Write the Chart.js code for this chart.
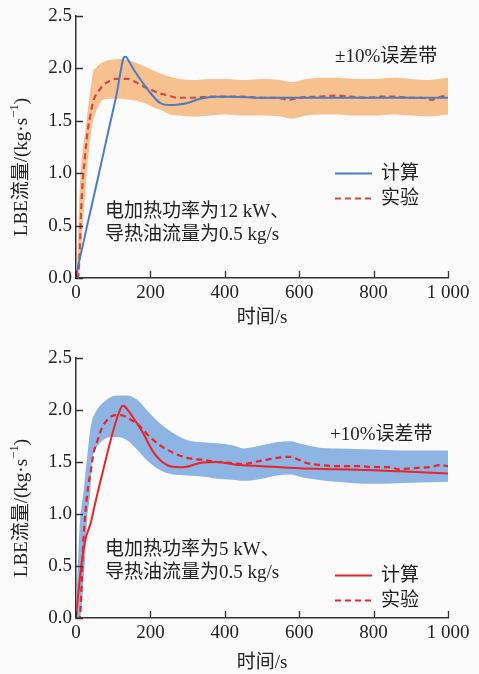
<!DOCTYPE html>
<html>
<head>
<meta charset="utf-8">
<title>LBE flow</title>
<script src="https://cdn.jsdelivr.net/npm/chart.js@4.4.1/dist/chart.umd.min.js"></script>
<style>
  html, body { margin: 0; padding: 0; background: #fbfbfb; }
  .wrap { position: relative; width: 479px; height: 337px; }
  canvas { display: block; }
</style>
</head>
<body>
<div class="wrap"><canvas id="chartTop" width="479" height="337"></canvas></div>
<div class="wrap"><canvas id="chartBottom" width="479" height="337"></canvas></div>

<script>
// ---- data: 12 kW case ----
const calcTime1 = [0, 10, 30, 60, 90, 110, 120, 128, 134, 142, 155, 172, 199, 226, 250, 275, 300, 333, 378, 420, 500, 600, 700, 800, 900, 1000];
const calcFlow1 = [0.03, 0.18, 0.5, 0.97, 1.45, 1.77, 1.97, 2.1, 2.11, 2.07, 1.99, 1.9, 1.77, 1.67, 1.65, 1.655, 1.67, 1.71, 1.73, 1.73, 1.72, 1.72, 1.72, 1.72, 1.72, 1.72];
const expTime1 = [0, 6, 10, 15, 24, 32, 38, 46, 51, 60, 73, 90, 105, 137, 160, 180, 200, 226, 250, 271, 315, 360, 400, 450, 500, 540, 570, 600, 650, 700, 740, 780, 820, 860, 900, 930, 955, 980, 1000];
const expFlow1 = [0, 0.02, 0.25, 0.74, 1.15, 1.42, 1.54, 1.68, 1.73, 1.78, 1.84, 1.88, 1.9, 1.9, 1.87, 1.83, 1.8, 1.76, 1.74, 1.72, 1.72, 1.73, 1.73, 1.73, 1.72, 1.72, 1.70, 1.72, 1.73, 1.74, 1.73, 1.72, 1.73, 1.73, 1.72, 1.72, 1.70, 1.73, 1.74];
const bandTime1 = [0, 5, 10, 15, 20, 25, 30, 35, 40, 46, 52, 60, 73, 90, 118, 140, 164, 190, 207, 230, 253, 280, 315, 360, 400, 450, 500, 550, 580, 620, 660, 700, 750, 800, 850, 900, 950, 1000];
const bandUpper1 = [0.05, 0.3, 0.85, 1.12, 1.28, 1.4, 1.55, 1.7, 1.83, 1.97, 2.0, 2.03, 2.06, 2.08, 2.09, 2.08, 2.05, 2.01, 1.98, 1.95, 1.92, 1.9, 1.89, 1.9, 1.9, 1.89, 1.9, 1.89, 1.87, 1.9, 1.91, 1.91, 1.9, 1.9, 1.91, 1.9, 1.89, 1.91];
const bandLower1 = [0, 0, 0.1, 0.35, 0.6, 0.83, 1.05, 1.22, 1.38, 1.5, 1.57, 1.64, 1.7, 1.71, 1.71, 1.7, 1.69, 1.66, 1.63, 1.6, 1.56, 1.55, 1.54, 1.55, 1.56, 1.55, 1.55, 1.54, 1.52, 1.55, 1.56, 1.56, 1.55, 1.55, 1.56, 1.55, 1.54, 1.56];

// ---- data: 5 kW case ----
const calcTime2 = [0, 8, 16, 25, 40, 50, 75, 100, 115, 125, 132, 153, 180, 207, 226, 253, 288, 333, 378, 420, 442, 500, 600, 700, 800, 871, 1000];
const calcFlow2 = [0.02, 0.3, 0.55, 0.75, 0.92, 1.08, 1.45, 1.8, 1.97, 2.04, 2.03, 1.93, 1.78, 1.6, 1.52, 1.46, 1.45, 1.49, 1.5, 1.48, 1.47, 1.46, 1.44, 1.43, 1.42, 1.41, 1.39];
const expTime2 = [0, 10, 13, 16, 19, 25, 33, 40, 47, 60, 70, 83, 105, 120, 137, 150, 167, 183, 199, 226, 261, 298, 342, 378, 420, 450, 480, 510, 540, 575, 600, 620, 660, 710, 760, 800, 840, 870, 900, 950, 980, 1000];
const expFlow2 = [0, 0, 0.15, 0.4, 0.68, 1.0, 1.27, 1.42, 1.58, 1.73, 1.83, 1.9, 1.95, 1.95, 1.93, 1.9, 1.86, 1.8, 1.74, 1.66, 1.59, 1.54, 1.52, 1.5, 1.49, 1.48, 1.5, 1.52, 1.54, 1.55, 1.52, 1.49, 1.47, 1.46, 1.46, 1.45, 1.45, 1.43, 1.44, 1.45, 1.47, 1.46];
const bandTime2 = [0, 5, 10, 15, 20, 25, 30, 38, 43, 50, 64, 73, 91, 110, 137, 164, 190, 226, 261, 300, 340, 378, 420, 450, 500, 540, 575, 610, 650, 700, 800, 900, 1000];
const bandUpper2 = [0.1, 0.5, 0.9, 1.08, 1.2, 1.38, 1.55, 1.8, 1.9, 1.96, 2.04, 2.07, 2.12, 2.14, 2.14, 2.1, 2.0, 1.87, 1.78, 1.71, 1.69, 1.68, 1.66, 1.63, 1.66, 1.69, 1.70, 1.67, 1.64, 1.63, 1.62, 1.61, 1.61];
const bandLower2 = [0, 0, 0, 0.1, 0.35, 0.6, 0.95, 1.2, 1.5, 1.6, 1.68, 1.71, 1.74, 1.74, 1.71, 1.62, 1.52, 1.42, 1.38, 1.37, 1.36, 1.34, 1.33, 1.32, 1.34, 1.37, 1.38, 1.35, 1.33, 1.31, 1.29, 1.30, 1.31];

const xTicks = [0, 200, 400, 600, 800, 1000];
const yTicks = [0, 0.5, 1.0, 1.5, 2.0, 2.5];

const FONT = '"Liberation Serif", "Noto Sans CJK SC", serif';
const AXIS = '#333';
Chart.defaults.font.family = FONT;
Chart.defaults.font.size = 19;
Chart.defaults.color = '#222';

function zip(xs, ys) {
  return xs.map((x, i) => ({ x: x, y: ys[i] }));
}

function fmtX(v) {
  return v === 1000 ? '1 000' : String(v);
}

// inward tick marks on both axes
const inwardTicks = {
  id: 'inwardTicks',
  afterDraw(chart) {
    const { ctx, chartArea: a, scales: { x, y } } = chart;
    ctx.save();
    ctx.strokeStyle = AXIS;
    ctx.lineWidth = 1.3;
    ctx.beginPath();
    x.ticks.forEach(t => {
      const px = Math.round(x.getPixelForValue(t.value)) + 0.5;
      ctx.moveTo(px, a.bottom);
      ctx.lineTo(px, a.bottom - 7);
    });
    y.ticks.forEach(t => {
      const py = Math.round(y.getPixelForValue(t.value)) + 0.5;
      ctx.moveTo(a.left, py);
      ctx.lineTo(a.left + 7, py);
    });
    ctx.stroke();
    ctx.restore();
  }
};

// y axis title with superscript, legend and notes
const notes = {
  id: 'notes',
  afterDraw(chart, args, opts) {
    const { ctx, chartArea: a } = chart;
    ctx.save();
    ctx.fillStyle = '#222';
    ctx.textBaseline = 'middle';

    // y title
    const big = '19px ' + FONT, small = '13px ' + FONT;
    const p1 = 'LBE流量/(kg·s', p2 = '−1', p3 = ')';
    ctx.font = big;
    const w1 = ctx.measureText(p1).width, w3 = ctx.measureText(p3).width;
    ctx.font = small;
    const w2 = ctx.measureText(p2).width;
    const total = w1 + w2 + w3;
    ctx.translate(22, (a.top + a.bottom) / 2 + 20);
    ctx.rotate(-Math.PI / 2);
    ctx.textAlign = 'left';
    ctx.font = big;
    ctx.fillText(p1, -total / 2, 0);
    ctx.font = small;
    ctx.fillText(p2, -total / 2 + w1, -7);
    ctx.font = big;
    ctx.fillText(p3, -total / 2 + w1 + w2, 0);
    ctx.setTransform(1, 0, 0, 1, 0, 0);

    // band label and notes
    ctx.font = big;
    ctx.fillText(opts.bandLabel, a.left + opts.bandPos[0], a.top + opts.bandPos[1]);
    opts.noteLines.forEach((s, i) => {
      ctx.fillText(s, a.left + opts.notePos[0], a.top + opts.notePos[1] + i * 23.5);
    });

    // legend from the two line datasets
    [0, 1].forEach(i => {
      const ds = chart.data.datasets[i];
      const ly = Math.round(a.top + opts.legendPos[1] + i * 24.5) + 0.5;
      const lx = a.left + opts.legendPos[0];
      ctx.save();
      ctx.strokeStyle = ds.borderColor;
      ctx.lineWidth = ds.borderWidth;
      ctx.setLineDash(ds.borderDash || []);
      ctx.beginPath();
      ctx.moveTo(lx, ly);
      ctx.lineTo(lx + 37, ly);
      ctx.stroke();
      ctx.restore();
      ctx.fillText(ds.label, lx + 46, ly + 1);
    });
    ctx.restore();
  }
};

function makeChart(id, cfg) {
  const lineBase = { pointRadius: 0, fill: false, cubicInterpolationMode: 'monotone' };
  return new Chart(document.getElementById(id), {
    type: 'line',
    data: {
      datasets: [
        Object.assign({ label: '计算', data: cfg.calc, borderColor: cfg.calcColor, borderWidth: 2 }, lineBase),
        Object.assign({ label: '实验', data: cfg.exp, borderColor: cfg.expColor, borderWidth: 2.2, borderDash: [6, 4] }, lineBase),
        { label: 'upper', data: cfg.upper, borderWidth: 0, pointRadius: 0, backgroundColor: cfg.bandColor,
          fill: '+1', cubicInterpolationMode: 'monotone' },
        { label: 'lower', data: cfg.lower, borderWidth: 0, pointRadius: 0, fill: false,
          cubicInterpolationMode: 'monotone' }
      ]
    },
    options: {
      responsive: false,
      animation: false,
      layout: { padding: { left: 0, right: 31, top: cfg.top, bottom: 0 } },
      plugins: {
        legend: { display: false },
        tooltip: { enabled: false },
        notes: cfg.notes
      },
      scales: {
        x: {
          type: 'linear', min: 0, max: 1000,
          afterBuildTicks: s => { s.ticks = xTicks.map(v => ({ value: v })); },
          afterFit: s => { s.height = cfg.xHeight; },
          grid: { display: false, drawTicks: false },
          border: { display: true, color: AXIS, width: 1.5 },
          ticks: { padding: 4, maxRotation: 0, autoSkip: false, callback: v => fmtX(v) },
          title: { display: true, text: '时间/s', padding: { top: 0, bottom: cfg.titlePad } }
        },
        y: {
          type: 'linear', min: 0, max: 2.5,
          afterBuildTicks: s => { s.ticks = yTicks.map(v => ({ value: v })); },
          afterFit: s => { s.width = 76; },
          grid: { display: false, drawTicks: false },
          border: { display: true, color: AXIS, width: 1.5 },
          ticks: { padding: 4, callback: v => v.toFixed(1) }
        }
      }
    },
    plugins: [inwardTicks, notes]
  });
}

makeChart('chartTop', {
  calc: zip(calcTime1, calcFlow1),
  exp: zip(expTime1, expFlow1),
  upper: zip(bandTime1, bandUpper1),
  lower: zip(bandTime1, bandLower1),
  calcColor: '#4a7cc4', expColor: '#cf4b45', bandColor: '#f7c18f',
  top: 16, xHeight: 59, titlePad: 8,
  notes: {
    bandLabel: '±10%误差带', bandPos: [259, 41],
    noteLines: ['电加热功率为12 kW、', '导热油流量为0.5 kg/s'], notePos: [29, 196],
    legendPos: [259, 157]
  }
});

makeChart('chartBottom', {
  calc: zip(calcTime2, calcFlow2),
  exp: zip(expTime2, expFlow2),
  upper: zip(bandTime2, bandUpper2),
  lower: zip(bandTime2, bandLower2),
  calcColor: '#e9242a', expColor: '#e9242a', bandColor: '#8db4e2',
  top: 21, xHeight: 56, titlePad: 0,
  notes: {
    bandLabel: '+10%误差带', bandPos: [254, 77],
    noteLines: ['电加热功率为5 kW、', '导热油流量为0.5 kg/s'], notePos: [29, 192],
    legendPos: [259, 217]
  }
});
</script>
</body>
</html>
